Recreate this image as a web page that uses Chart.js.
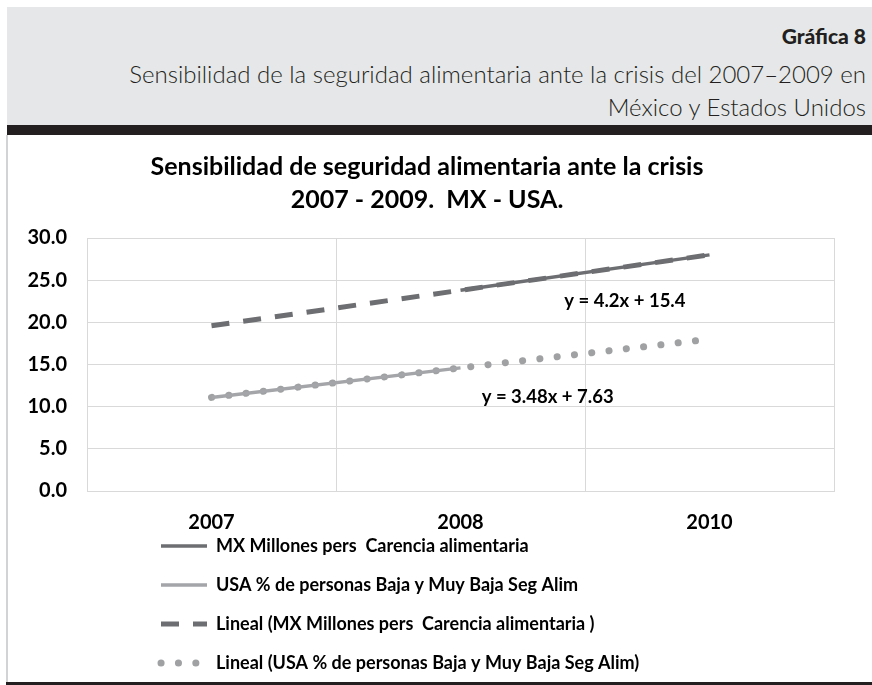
<!DOCTYPE html>
<html>
<head>
<meta charset="utf-8">
<script src="https://cdn.jsdelivr.net/npm/chart.js@4.4.0/dist/chart.umd.min.js"></script>
<style>
  html, body { margin: 0; padding: 0; background: #fff; }
  body { width: 872px; height: 685px; overflow: hidden; position: relative; font-family: Lato, sans-serif; }
  #head { position: absolute; left: 7px; top: 7px; width: 865px; height: 118px; background: #e6e7e8; color: #231f20; }
  #head div { position: absolute; right: 6px; white-space: nowrap; }
  #num { top: 16px; font-size: 21px; font-weight: 900; }
  #sub1 { top: 52px; font-size: 24px; font-weight: 300; }
  #sub2 { top: 85px; font-size: 24px; font-weight: 300; }
  #bar { position: absolute; left: 7px; top: 125px; width: 865px; height: 10px; background: #231f20; }
  #side { position: absolute; left: 6px; top: 135px; width: 2px; height: 548px; background: #d1d3d4; }
  #foot { position: absolute; left: 6px; top: 682px; width: 866px; height: 3px; background: #231f20; z-index: 2; }
  #wrap { position: absolute; left: 8px; top: 136px; width: 850px; height: 585px; }
</style>
</head>
<body>
<div id="head">
  <div id="num">Gráfica 8</div>
  <div id="sub1">Sensibilidad de la seguridad alimentaria ante la crisis del 2007–2009 en</div>
  <div id="sub2">México y Estados Unidos</div>
</div>
<div id="bar"></div>
<div id="side"></div>
<div id="wrap"><canvas id="chart"></canvas></div>
<div id="foot"></div>
<script>
// categories and values
const years = ['2007', '2008', '2010'];
const mxMillones = [null, 23.8, 28.0];
const usaPct = [11.1, 14.6, null];
const mxTrend = [19.6, 23.8, 28.0];
const usaTrend = [11.1, 14.6, 18.0];
const yTicks = [0, 5, 10, 15, 20, 25, 30];

// trendline equations, anchored at (category index, value)
const trendLabels = [
    { text: 'y = 4.2x + 15.4', at: 1.66, value: 22.5 },
    { text: 'y = 3.48x + 7.63', at: 1.35, value: 11.2 }
];

const FONT = 'Lato, "Open Sans", sans-serif';

// draws the equation texts next to the trendlines
const equationText = {
    id: 'equationText',
    afterDatasetsDraw(chart) {
        const { ctx, scales: { x, y } } = chart;
        ctx.save();
        ctx.font = 'bold 18.5px ' + FONT;
        ctx.fillStyle = '#000';
        ctx.textAlign = 'center';
        ctx.textBaseline = 'middle';
        trendLabels.forEach(l => {
            ctx.fillText(l.text, x.getPixelForValue(l.at), y.getPixelForValue(l.value));
        });
        ctx.restore();
    }
};

// legend sits left-aligned under the axis, like the Excel original
const legendPlace = {
    id: 'legendPlace',
    afterLayout(chart) {
        const lg = chart.legend;
        const dx = chart.chartArea.left + 53 - lg.left;
        const dy = chart.chartArea.bottom + 25 - lg.top;
        lg.left += dx; lg.right += dx;
        lg.top += dy; lg.bottom += dy;
    }
};

const ctx = document.getElementById('chart').getContext('2d');
const chart = new Chart(ctx, {
    type: 'line',
    data: {
        labels: years,
        datasets: [
            { label: 'MX Millones pers  Carencia alimentaria', data: mxMillones,
              borderColor: '#6d6e71', backgroundColor: '#6d6e71', borderWidth: 3.5 },
            { label: 'USA % de personas Baja y Muy Baja Seg Alim', data: usaPct,
              borderColor: '#a3a5a8', backgroundColor: '#a3a5a8', borderWidth: 3.5 },
            { label: 'Lineal (MX Millones pers  Carencia alimentaria )', data: mxTrend,
              borderColor: '#6d6e71', backgroundColor: '#6d6e71', borderWidth: 5,
              borderDash: [18, 14] },
            { label: 'Lineal (USA % de personas Baja y Muy Baja Seg Alim)', data: usaTrend,
              borderColor: '#9fa1a3', backgroundColor: '#9fa1a3', borderWidth: 7,
              borderDash: [0.1, 17.3], borderCapStyle: 'round' }
        ]
    },
    options: {
        responsive: true,
        maintainAspectRatio: false,
        animation: false,
        layout: { padding: { left: 12, right: 24, top: 0, bottom: 0 } },
        elements: { point: { radius: 0 }, line: { tension: 0, fill: false } },
        plugins: {
            title: {
                display: true,
                text: ['Sensibilidad de seguridad alimentaria ante la crisis', '2007 - 2009.  MX - USA.'],
                color: '#000',
                font: { family: FONT, size: 25, weight: 'bold', lineHeight: 1.3 },
                padding: { top: 15, bottom: 22 }
            },
            legend: {
                position: 'bottom',
                align: 'start',
                fullSize: false,
                labels: {
                    usePointStyle: true,
                    pointStyle: 'line',
                    pointStyleWidth: 46,
                    padding: 21,
                    color: '#000',
                    font: { family: FONT, size: 18, weight: 'bold' },
                    // take dash and cap from the dataset so the samples match the lines
                    generateLabels(chart) {
                        const items = Chart.defaults.plugins.legend.labels.generateLabels(chart);
                        items.forEach(it => {
                            const ds = chart.data.datasets[it.datasetIndex];
                            it.lineDash = ds.borderDash || [];
                            it.lineCap = ds.borderCapStyle || 'butt';
                            it.lineWidth = ds.borderWidth;
                            it.strokeStyle = ds.borderColor;
                        });
                        return items;
                    }
                }
            },
            tooltip: { enabled: false }
        },
        scales: {
            x: {
                offset: true,
                grid: { offset: true, color: '#d9d9d9', drawTicks: false },
                border: { color: '#d9d9d9' },
                ticks: { color: '#000', padding: 20, font: { family: FONT, size: 20, weight: 'bold' } }
            },
            y: {
                min: 0,
                max: 30,
                afterBuildTicks: s => { s.ticks = yTicks.map(v => ({ value: v })); },
                afterFit: s => { s.width = 67; },
                grid: { color: '#d9d9d9', drawTicks: false },
                border: { color: '#d9d9d9' },
                ticks: { color: '#000', padding: 20, callback: v => v.toFixed(1),
                         font: { family: FONT, size: 20, weight: 'bold' } }
            }
        }
    },
    plugins: [equationText, legendPlace]
});
</script>
</body>
</html>
